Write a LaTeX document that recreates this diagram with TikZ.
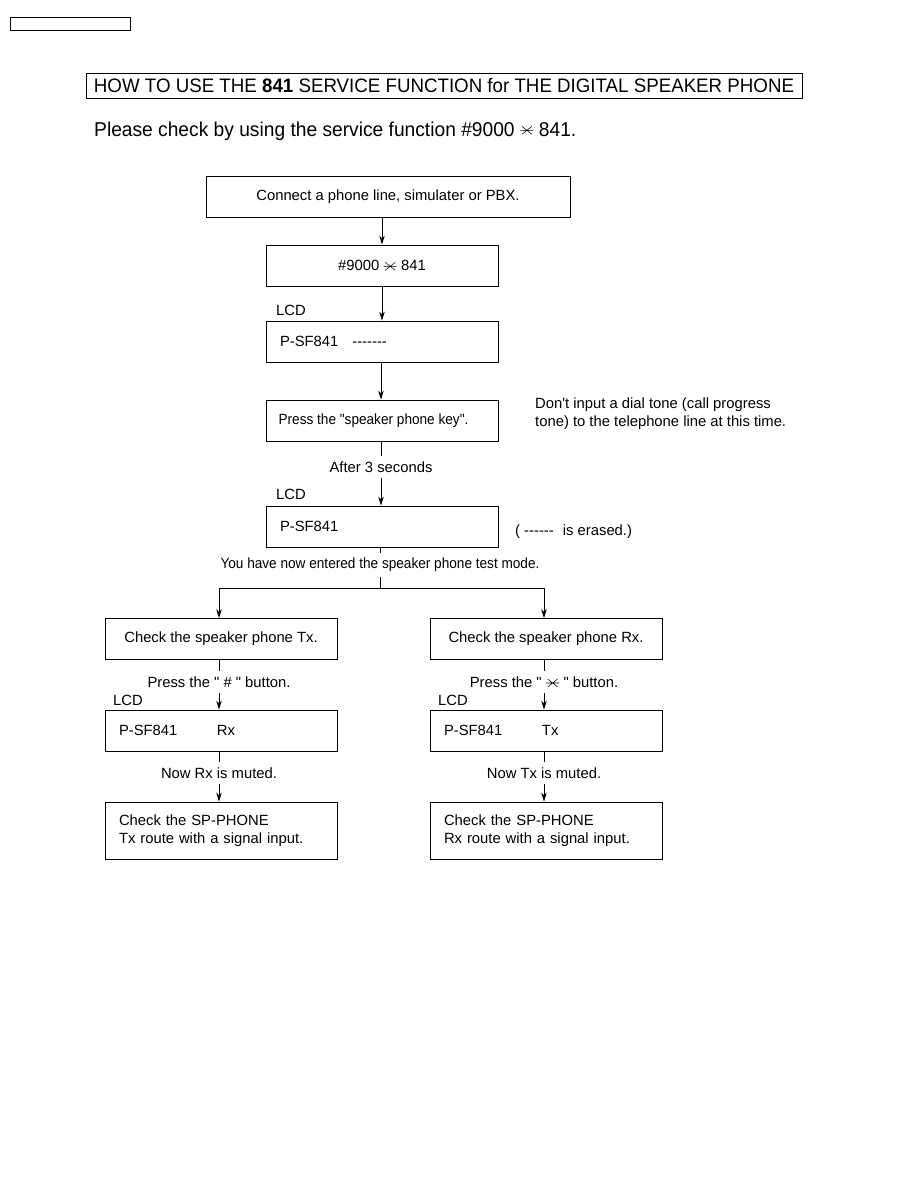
\documentclass[tikz,border=0pt]{standalone}
\usepackage{fontspec}
\setmainfont[Ligatures=TeXOff]{Liberation Sans}
\newfontfamily\narrowsans[FakeStretch=0.96,Ligatures=TeXOff]{Liberation Sans}
\newfontfamily\condsans[FakeStretch=0.92,Ligatures=TeXOff]{Liberation Sans}
\usetikzlibrary{arrows.meta}

% the star key of the phone
\newcommand{\starkey}{\tikz[baseline=-0.55ex,line width=0.55pt]{\draw (-6.5pt,0pt) -- (6.5pt,0pt) (-5pt,-4pt) -- (5pt,4pt) (-5pt,4pt) -- (5pt,-4pt);}}

\begin{document}
\begin{tikzpicture}[
					x=1pt,y=-1pt,
					font=\fontsize{14.8}{18}\selectfont,
					fbox/.style={draw,line width=0.8pt,minimum height=41pt,inner sep=0pt},
					lcdbox/.style={draw,line width=0.8pt,minimum height=41pt,text width=204pt,inner xsep=14pt,align=left},
					flbl/.style={inner xsep=2pt,inner ysep=5pt},
					farr/.style={line width=0.8pt,-{Stealth[length=9pt,width=5.5pt]}},
					fline/.style={line width=0.8pt}
					]
					\useasboundingbox (0,0) rectangle (918,1188);
					\node[draw,line width=0.8pt,minimum width=120pt,minimum height=13pt,inner sep=0pt] (tag) at (70,23.5) {};
					\node[draw,line width=0.8pt,minimum width=716pt,minimum height=25pt,inner sep=0pt,font=\narrowsans\fontsize{19.5}{20}\selectfont] (title) at (444,85.5) {HOW TO USE THE \textbf{841} SERVICE FUNCTION for THE DIGITAL SPEAKER PHONE};
					\node[anchor=west,inner sep=0pt,font=\narrowsans\fontsize{20}{22}\selectfont] (intro) at (94,131) {Please check by using the service function \#9000 \starkey{} 841.};
					% main flow
					\node[fbox,minimum width=364pt] (b1) at (388,197) {Connect a phone line, simulater or PBX.};
					\node[fbox,minimum width=232pt] (b2) at (382,265.5) {\#9000 \starkey{} 841};
					\node[lcdbox] (b3) at (382,341.5) {P-SF841\hspace{14pt}-------};
					\node[fbox,minimum width=232pt,font=\condsans\fontsize{14.8}{18}\selectfont] (b4) at (382,420.5) {\hspace*{-17pt}Press the "speaker phone key".};
					\node[lcdbox] (b5) at (382,526.5) {P-SF841};
					\node[flbl] (t1) at (381,467) {After 3 seconds};
					\node[flbl,font=\condsans\fontsize{14.8}{18}\selectfont] (t2) at (380,565) {You have now entered the speaker phone test mode.};
					\coordinate (split) at (380,588);
					\foreach \n/\y in {a/310,b/494}{
						\node[anchor=west,inner sep=0pt] (lcd\n) at (276,\y) {LCD};
					}
					\node[anchor=north west,inner sep=0pt,align=left] (note1) at (535,398) {Don't input a dial tone (call progress\\tone) to the telephone line at this time.};
					\node[anchor=west,inner sep=0pt] (note2) at (515,532) {( ------\hspace{5pt} is erased.)};
					\draw[farr] (b1.south -| b2.north) -- (b2);
					\draw[farr] (b2) -- (b3);
					\draw[farr] (b3.south -| 381,0) -- (b4.north -| 381,0);
					\draw[fline] (b4.south -| t1.north) -- (t1);
					\draw[farr] (t1) -- (b5.north -| t1.south);
					\draw[fline] (b5.south -| t2.north) -- (t2);
					\draw[fline] (t2) -- (split);
					% two branches
					\foreach \s/\x/\key/\mode/\other in {l/221/\#/Rx/Tx,r/546/\starkey/Tx/Rx}{
						\node[fbox,minimum width=232pt] (b6\s) at (\x,639) {Check the speaker phone \other.};
						\node[flbl] (t3\s) at (\x-2,682) {Press the " \key{} " button.};
						\node[lcdbox] (b7\s) at (\x,730.5) {\makebox[98pt][l]{P-SF841}\mode};
						\node[anchor=west,inner sep=0pt] (lcd\s) at (\x-108,700) {LCD};
						\node[flbl] (t4\s) at (\x-2,773) {Now \mode{} is muted.};
						\node[lcdbox,minimum height=57pt] (b8\s) at (\x,830.5) {Check the SP-PHONE\\\other{} route with a signal input.};
						\draw[farr] (split) -| (t3\s.north |- b6\s.north);
						\draw[fline] (b6\s.south -| t3\s.north) -- (t3\s);
						\draw[farr] (t3\s) -- (b7\s.north -| t3\s.south);
						\draw[fline] (b7\s.south -| t4\s.north) -- (t4\s);
						\draw[farr] (t4\s) -- (b8\s.north -| t4\s.south);
					}
				\end{tikzpicture}
\end{document}
